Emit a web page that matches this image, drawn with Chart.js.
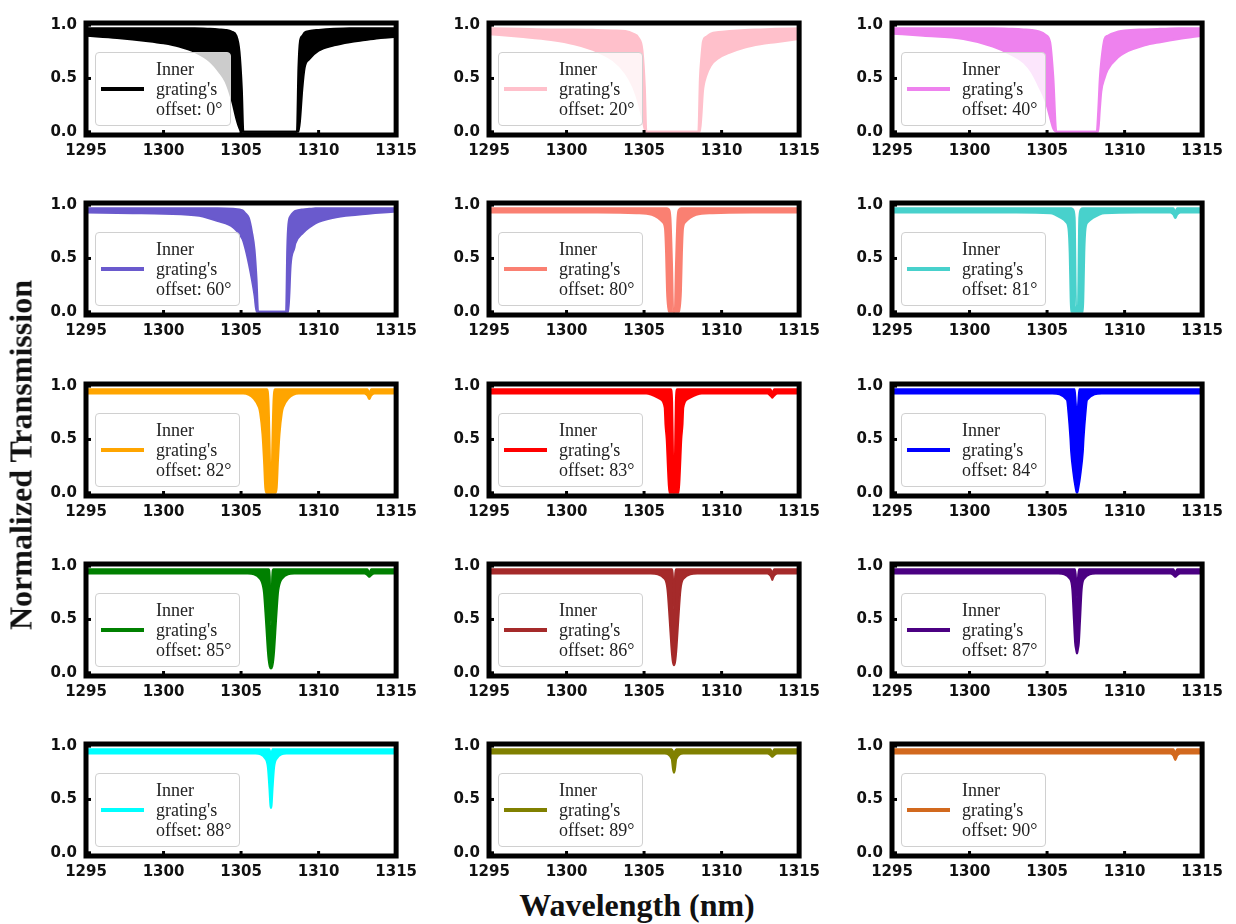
<!DOCTYPE html>
<html>
<head>
<meta charset="utf-8">
<script src="https://cdn.jsdelivr.net/npm/chart.js"></script>
<style>
  body { margin: 0; background: #fff; }
  #wrap { position: relative; width: 1236px; height: 924px; overflow: hidden; }
  canvas { position: absolute; }
  .leg { position: absolute; display: flex; align-items: center; padding: 6px 8px 6px 5px;
         background: rgba(255,255,255,0.8); border: 1px solid #d0d0d0; border-radius: 4px; }
  .sw { width: 43px; height: 4px; margin-right: 12px; }
  .txt { font: 18px "Liberation Serif", "Times New Roman", serif; line-height: 20px; color: #222; white-space: nowrap; }
  .title { position: absolute; font: bold 32px "Liberation Serif", "Times New Roman", serif; color: #111; white-space: nowrap; }
</style>
</head>
<body>
<div id="wrap"></div>
<script>
// tick labels
var xTicks = [1295, 1300, 1305, 1310, 1315];
var yTicks = [0, 0.5, 1.0];

// inner grating offsets (deg) and line colours
var offsets = [0, 20, 40, 60, 80, 81, 82, 83, 84, 85, 86, 87, 88, 89, 90];
var colors = ['#000000', '#ffc0cb', '#ee82ee', '#6a5acd', '#fa8072', '#48d1cc', '#ffa500', '#ff0000',
              '#0000ff', '#008000', '#a52a2a', '#4b0082', '#00ffff', '#808000', '#d2691e'];

// each spectrum: wavelength (nm), upper and lower envelope of the fringes

// 0 deg
var wl0 = [1295, 1297, 1299, 1300, 1301, 1302, 1303, 1303.6, 1304.0, 1304.4, 1304.7, 1304.9, 1305.05, 1305.15, 1308.6, 1308.7, 1308.8, 1308.95, 1309.1, 1309.4, 1310, 1311, 1312, 1313, 1314, 1315];
var hi0 = [.97, .97, .97, .97, .97, .97, .965, .96, .955, .94, .9, .75, .4, 0, 0, .6, .85, .9, .93, .945, .955, .965, .97, .97, .97, .97];
var lo0 = [.9, .88, .85, .83, .8, .75, .66, .56, .47, .3, .12, .03, 0, 0, 0, 0, .1, .4, .6, .68, .76, .81, .84, .86, .88, .89];

// 20 deg
var wl1 = [1295, 1297, 1299, 1300.5, 1302, 1303, 1303.8, 1304.3, 1304.65, 1304.9, 1305.05, 1305.15, 1308.5, 1308.6, 1308.7, 1308.8, 1309, 1309.3, 1309.8, 1310.5, 1311.5, 1312.5, 1313.5, 1315];
var hi1 = [.97, .965, .96, .96, .955, .95, .945, .92, .88, .76, .42, 0, 0, .5, .71, .85, .89, .92, .935, .945, .955, .96, .965, .97];
var lo1 = [.915, .89, .86, .82, .75, .67, .55, .42, .27, .12, .02, 0, 0, 0, .15, .38, .52, .62, .69, .74, .79, .82, .84, .87];

// 40 deg
var wl2 = [1295, 1297, 1299.6, 1301.5, 1302.75, 1303.5, 1304.0, 1304.5, 1304.9, 1305.2, 1305.4, 1305.6, 1308.2, 1308.3, 1308.4, 1308.5, 1308.7, 1308.9, 1309.6, 1310, 1311.3, 1312.3, 1313.5, 1315];
var hi2 = [.97, .97, .97, .97, .965, .96, .955, .94, .91, .84, .52, 0, 0, .2, .5, .67, .87, .9, .94, .95, .96, .965, .97, .97];
var lo2 = [.92, .9, .87, .8, .72, .65, .56, .42, .29, .13, .03, 0, 0, 0, .2, .38, .5, .58, .7, .74, .81, .84, .87, .9];

// 60 deg
var wl3 = [1295, 1298, 1300, 1302.3, 1303.5, 1304.5, 1305.1, 1305.3, 1305.5, 1305.7, 1305.87, 1306.0, 1306.1, 1307.9, 1307.98, 1308.05, 1308.2, 1308.44, 1308.5, 1309, 1309.4, 1309.8, 1310.9, 1312.5, 1315];
var hi3 = [.97, .97, .97, .97, .97, .965, .95, .92, .88, .75, .58, .3, 0, 0, .6, .82, .9, .94, .945, .96, .965, .97, .97, .97, .97];
var lo3 = [.93, .925, .92, .9, .85, .79, .68, .58, .45, .3, .15, 0, 0, 0, 0, 0, .44, .6, .64, .74, .79, .83, .88, .91, .94];

// 80 deg
var wl4 = [1295, 1302, 1304.5, 1305.5, 1305.9, 1306.2, 1306.35, 1306.42, 1306.48, 1306.6, 1306.7, 1306.8, 1306.88, 1306.98, 1307.06, 1307.16, 1307.26, 1307.38, 1307.44, 1307.51, 1307.66, 1307.96, 1308.36, 1309.4, 1312, 1315];
var hi4 = [.97, .97, .97, .97, .97, .97, .97, .97, .97, .96, .88, .45, 0, 0, .45, .88, .96, .97, .97, .97, .97, .97, .97, .97, .97, .97];
var lo4 = [.93, .93, .925, .91, .88, .84, .78, .55, .2, 0, 0, 0, 0, 0, 0, 0, 0, .2, .55, .78, .84, .88, .91, .925, .93, .93];

// 81 deg
var wl5 = [1295, 1303, 1305.2, 1305.9, 1306.23, 1306.38, 1306.46, 1306.51, 1306.55, 1306.68, 1306.78, 1306.87, 1306.99, 1307.08, 1307.18, 1307.31, 1307.35, 1307.4, 1307.48, 1307.63, 1307.96, 1308.7, 1311, 1312.95, 1313.15, 1313.22, 1313.27, 1313.32, 1313.39, 1313.6, 1315];
var hi5 = [.97, .97, .97, .97, .97, .97, .97, .97, .97, .96, .88, .05, .05, .88, .96, .97, .97, .97, .97, .97, .97, .97, .97, .97, .97, .95, .93, .95, .97, .97, .97];
var lo5 = [.93, .93, .925, .88, .84, .78, .55, .2, 0, 0, 0, 0, 0, 0, 0, 0, .2, .55, .78, .84, .88, .925, .93, .93, .91, .89, .88, .89, .91, .93, .93];

// 82 deg
var wl6 = [1295, 1302, 1305.13, 1305.83, 1306.15, 1306.23, 1306.38, 1306.48, 1306.56, 1306.63, 1306.68, 1306.77, 1306.85, 1306.89, 1306.93, 1306.97, 1307.01, 1307.09, 1307.18, 1307.23, 1307.3, 1307.38, 1307.48, 1307.63, 1307.71, 1308.03, 1308.73, 1311, 1312.95, 1313.15, 1313.22, 1313.27, 1313.32, 1313.39, 1313.6, 1315];
var hi6 = [.97, .97, .97, .97, .97, .97, .97, .97, .97, .97, .97, .85, .4, .1, 0, .1, .4, .85, .97, .97, .97, .97, .97, .97, .97, .97, .97, .97, .97, .97, .95, .93, .95, .97, .97, .97];
var lo6 = [.93, .93, .93, .88, .8, .75, .55, .3, .05, 0, 0, 0, 0, 0, 0, 0, 0, 0, 0, 0, .05, .3, .55, .75, .8, .88, .93, .93, .93, .91, .89, .88, .89, .91, .93, .93];

// 83 deg
var wl7 = [1295, 1302, 1305.13, 1306.03, 1306.33, 1306.38, 1306.46, 1306.55, 1306.63, 1306.73, 1306.81, 1306.86, 1306.9, 1306.93, 1306.96, 1307.0, 1307.05, 1307.13, 1307.23, 1307.31, 1307.4, 1307.48, 1307.53, 1307.83, 1308.73, 1311, 1312.95, 1313.15, 1313.22, 1313.27, 1313.32, 1313.39, 1313.6, 1315];
var hi7 = [.97, .97, .97, .97, .97, .97, .97, .97, .97, .97, .85, .4, .1, 0, .1, .4, .85, .97, .97, .97, .97, .97, .97, .97, .97, .97, .97, .97, .95, .93, .95, .97, .97, .97];
var lo7 = [.93, .93, .93, .88, .8, .64, .5, .2, 0, 0, 0, 0, 0, 0, 0, 0, 0, 0, 0, .2, .5, .64, .8, .88, .93, .93, .93, .91, .9, .89, .9, .91, .93, .93];

// 84 deg
var wl8 = [1295, 1302, 1305.33, 1306.28, 1306.38, 1306.51, 1306.55, 1306.73, 1306.78, 1306.85, 1306.89, 1306.93, 1306.97, 1307.01, 1307.08, 1307.13, 1307.31, 1307.35, 1307.48, 1307.58, 1308.53, 1312, 1315];
var hi8 = [.97, .97, .97, .97, .97, .97, .97, .97, .97, .84, .76, .72, .76, .84, .97, .97, .97, .97, .97, .97, .97, .97, .97];
var lo8 = [.93, .93, .93, .87, .75, .5, .39, .15, .1, .04, .01, 0, .01, .04, .1, .15, .39, .5, .75, .87, .93, .93, .93];

// 85 deg
var wl9 = [1295, 1302, 1305.43, 1306.23, 1306.43, 1306.48, 1306.6, 1306.73, 1306.78, 1306.85, 1306.93, 1307.01, 1307.08, 1307.13, 1307.26, 1307.38, 1307.43, 1307.63, 1308.43, 1311, 1312.95, 1313.15, 1313.22, 1313.27, 1313.32, 1313.39, 1313.6, 1315];
var hi9 = [.97, .97, .97, .97, .97, .97, .97, .97, .97, .9, .45, .9, .97, .97, .97, .97, .97, .97, .97, .97, .97, .97, .95, .93, .95, .97, .97, .97];
var lo9 = [.93, .93, .93, .88, .8, .75, .5, .2, .12, .06, .04, .06, .12, .2, .5, .75, .8, .88, .93, .93, .93, .915, .905, .9, .905, .915, .93, .93];

// 86 deg
var wl10 = [1295, 1302, 1305.43, 1306.33, 1306.51, 1306.65, 1306.76, 1306.81, 1306.86, 1306.93, 1307.0, 1307.05, 1307.1, 1307.21, 1307.35, 1307.53, 1308.43, 1311, 1312.95, 1313.15, 1313.22, 1313.27, 1313.32, 1313.39, 1313.6, 1315];
var hi10 = [.97, .97, .97, .97, .97, .97, .97, .97, .9, .6, .9, .97, .97, .97, .97, .97, .97, .97, .97, .97, .95, .93, .95, .97, .97, .97];
var lo10 = [.93, .93, .93, .88, .78, .5, .25, .16, .1, .07, .1, .16, .25, .5, .78, .88, .93, .93, .93, .91, .89, .87, .89, .91, .93, .93];

// 87 deg
var wl11 = [1295, 1302, 1305.73, 1306.48, 1306.63, 1306.73, 1306.81, 1306.87, 1306.93, 1306.99, 1307.05, 1307.13, 1307.23, 1307.38, 1308.13, 1311, 1312.95, 1313.15, 1313.22, 1313.27, 1313.32, 1313.39, 1313.6, 1315];
var hi11 = [.97, .97, .97, .97, .97, .97, .97, .88, .7, .88, .97, .97, .97, .97, .97, .97, .97, .97, .95, .93, .95, .97, .97, .97];
var lo11 = [.93, .93, .93, .88, .78, .5, .28, .22, .18, .22, .28, .5, .78, .88, .93, .93, .93, .915, .905, .9, .905, .915, .93, .93];

// 88 deg
var wl12 = [1295, 1302, 1305.93, 1306.58, 1306.73, 1306.83, 1306.89, 1306.93, 1306.97, 1307.03, 1307.13, 1307.28, 1307.93, 1312, 1315];
var hi12 = [.97, .97, .97, .97, .97, .97, .93, .88, .93, .97, .97, .97, .97, .97, .97];
var lo12 = [.93, .93, .93, .88, .8, .6, .45, .42, .45, .6, .8, .88, .93, .93, .93];

// 89 deg
var wl13 = [1295, 1302, 1306.33, 1306.78, 1306.87, 1306.93, 1306.99, 1307.08, 1307.53, 1311, 1312.95, 1313.15, 1313.22, 1313.27, 1313.32, 1313.39, 1313.6, 1315];
var hi13 = [.97, .97, .97, .97, .95, .92, .95, .97, .97, .97, .97, .97, .95, .93, .95, .97, .97, .97];
var lo13 = [.93, .93, .93, .88, .78, .75, .78, .88, .93, .93, .93, .915, .905, .9, .905, .915, .93, .93];

// 90 deg
var wl14 = [1295, 1302, 1308, 1311, 1312.95, 1313.15, 1313.22, 1313.27, 1313.32, 1313.39, 1313.6, 1315];
var hi14 = [.97, .97, .97, .97, .97, .97, .95, .93, .95, .97, .97, .97];
var lo14 = [.93, .93, .93, .93, .93, .91, .885, .87, .885, .91, .93, .93];

var wlList = [wl0, wl1, wl2, wl3, wl4, wl5, wl6, wl7, wl8, wl9, wl10, wl11, wl12, wl13, wl14];
var hiList = [hi0, hi1, hi2, hi3, hi4, hi5, hi6, hi7, hi8, hi9, hi10, hi11, hi12, hi13, hi14];
var loList = [lo0, lo1, lo2, lo3, lo4, lo5, lo6, lo7, lo8, lo9, lo10, lo11, lo12, lo13, lo14];

// grid layout (plot area of every panel)
var colLeft = [86, 489, 892];
var rowTop = [15, 195, 376, 556, 736];
var plotW = 314, plotH = 120;
var padL = 60, padT = 10, padR = 24, padB = 30;

var tickFont = { family: 'DejaVu Sans', size: 15, weight: 'bold' };

// thick black frame + short inward ticks
var framePlugin = {
    id: 'frame',
    afterDatasetsDraw: function (chart) {
        var a = chart.chartArea, c = chart.ctx;
        var sx = chart.scales.x, sy = chart.scales.y;
        c.save();
        c.strokeStyle = '#000';
        c.lineWidth = 3;
        xTicks.forEach(function (v) {
            var px = sx.getPixelForValue(v);
            c.beginPath(); c.moveTo(px, a.bottom); c.lineTo(px, a.bottom - 5); c.stroke();
        });
        yTicks.forEach(function (v) {
            var py = sy.getPixelForValue(v);
            c.beginPath(); c.moveTo(a.left, py); c.lineTo(a.left + 5, py); c.stroke();
        });
        c.lineWidth = 5;
        c.strokeRect(a.left, a.top, a.right - a.left, a.bottom - a.top);
        c.restore();
    }
};

var wrap = document.getElementById('wrap');

offsets.forEach(function (off, i) {
    var col = i % 3, row = Math.floor(i / 3);
    var color = colors[i];
    var wl = wlList[i], hi = hiList[i], lo = loList[i];

    var cv = document.createElement('canvas');
    cv.width = padL + plotW + padR;
    cv.height = padT + plotH + padB;
    cv.style.left = (colLeft[col] - padL) + 'px';
    cv.style.top = (rowTop[row] - padT) + 'px';
    wrap.appendChild(cv);

    new Chart(cv, {
        type: 'line',
        data: {
            datasets: [
                { data: wl.map(function (x, k) { return { x: x, y: hi[k] }; }),
                  borderColor: color, borderWidth: 2, pointRadius: 0, fill: false,
                  cubicInterpolationMode: 'monotone' },
                { data: wl.map(function (x, k) { return { x: x, y: lo[k] }; }),
                  borderColor: color, borderWidth: 2, pointRadius: 0, fill: '-1', backgroundColor: color,
                  cubicInterpolationMode: 'monotone' }
            ]
        },
        options: {
            responsive: false,
            animation: false,
            layout: { padding: { top: padT, right: padR, left: 0, bottom: 0 } },
            plugins: { legend: { display: false }, tooltip: { enabled: false } },
            scales: {
                x: {
                    type: 'linear', min: 1295, max: 1315,
                    afterBuildTicks: function (s) { s.ticks = xTicks.map(function (v) { return { value: v }; }); },
                    afterFit: function (s) { s.height = padB; },
                    ticks: { font: tickFont, color: '#111', padding: 7, maxRotation: 0,
                             callback: function (v) { return String(v); } },
                    grid: { display: false, drawTicks: false },
                    border: { display: false }
                },
                y: {
                    min: -0.03, max: 1.02,
                    afterBuildTicks: function (s) { s.ticks = yTicks.map(function (v) { return { value: v }; }); },
                    afterFit: function (s) { s.width = padL; },
                    ticks: { font: tickFont, color: '#111', padding: 9,
                             callback: function (v) { return v.toFixed(1); } },
                    grid: { display: false, drawTicks: false },
                    border: { display: false }
                }
            }
        },
        plugins: [framePlugin]
    });

    var leg = document.createElement('div');
    leg.className = 'leg';
    leg.style.left = (colLeft[col] + 9) + 'px';
    leg.style.top = (rowTop[row] + 37) + 'px';
    leg.innerHTML = '<span class="sw" style="background:' + color + '"></span>' +
        '<span class="txt">Inner<br>grating\'s<br>offset: ' + off + '°</span>';
    wrap.appendChild(leg);
});

var yt = document.createElement('div');
yt.className = 'title';
yt.textContent = 'Normalized Transmission';
yt.style.left = '21px';
yt.style.top = '455px';
yt.style.transform = 'translate(-50%, -50%) rotate(-90deg)';
wrap.appendChild(yt);

var xt = document.createElement('div');
xt.className = 'title';
xt.textContent = 'Wavelength (nm)';
xt.style.left = '637px';
xt.style.top = '905px';
xt.style.transform = 'translate(-50%, -50%)';
wrap.appendChild(xt);
</script>
</body>
</html>
